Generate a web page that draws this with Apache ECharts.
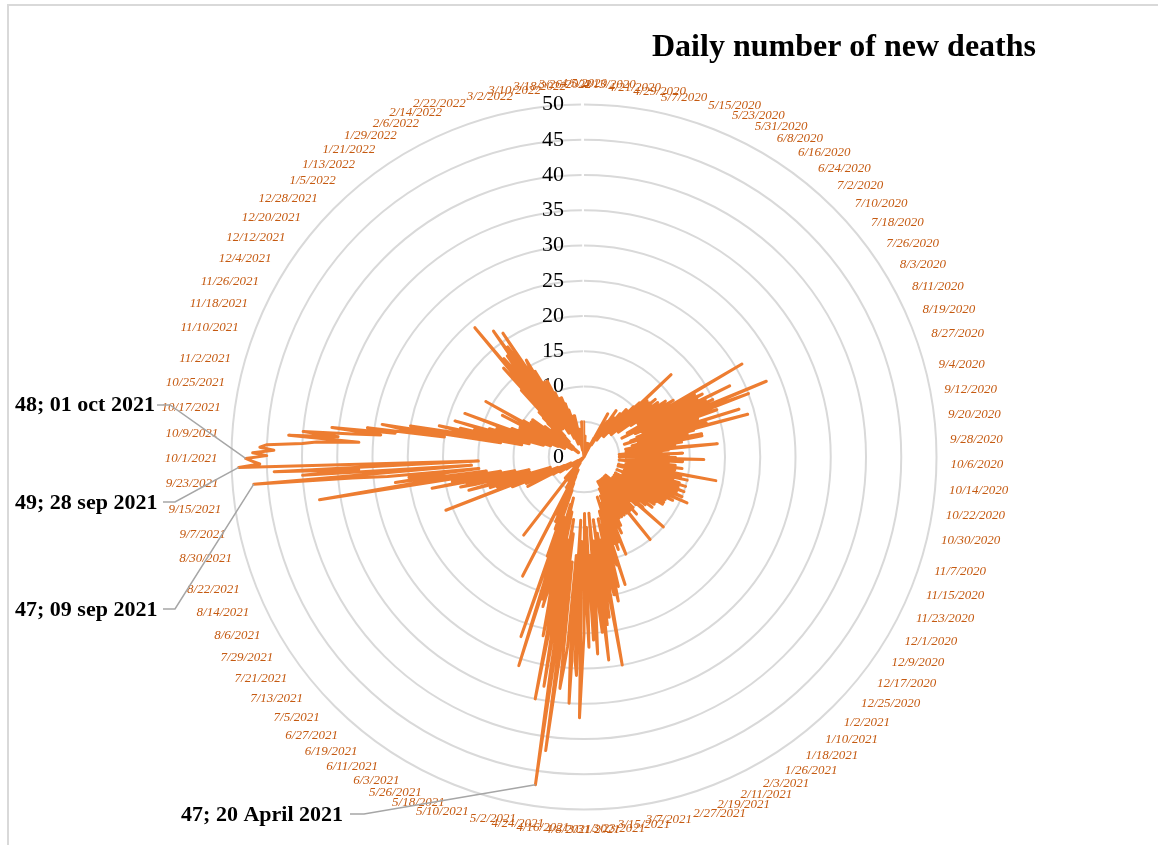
<!DOCTYPE html>
<html>
<head>
<meta charset="utf-8">
<title>Daily number of new deaths</title>
<script src="https://cdn.jsdelivr.net/npm/echarts@6/dist/echarts.min.js"></script>
<style>
  html, body { margin: 0; padding: 0; background: #ffffff; }
  #chart { width: 1158px; height: 845px; }
</style>
</head>
<body>
<div id="chart"></div>
<script>
// Daily new deaths, one array per month, starting 5 April 2020
const apr2020 = [1,0,2,1,0,1,3,1,0,2,1,1,0,2,1,0,1,2,0,1,1,0,2,1,0,1];
const may2020 = [0,1,0,0,1,0,2,0,1,0,0,1,0,0,1,0,0,0,1,0,1,0,0,2,0,1,1,0,2,1,3];
const jun2020 = [2,7,3,2,4,3,5,2,4,3,6,4,5,8,4,7,5,6,3,7,5,6,4,8,6,7,5,9,6,8];
const jul2020 = [7,9,4,10,8,11,5,17,8,10,12,6,11,10,12,5,13,10,7,12,10,13,6,12,10,14,8,13,12,15,9];
const aug2020 = [14,9,26,11,18,7,17,19,10,18,6,23,13,19,8,20,15,9,28,12,19,25,8,18,20,7,17,14,6,23,10];
const sep2020 = [15,18,8,24,12,16,7,15,13,10,17,6,17,12,9,14,7,13,11,6,12,19,8,12,5,11,9,6,14,8];
const oct2020 = [8,12,5,13,10,17,6,11,14,7,12,9,5,13,10,8,14,6,11,13,7,12,10,19,6,14,11,5,15,9,13];
const nov2020 = [12,5,14,11,15,7,12,14,6,13,15,8,12,14,5,13,15,9,12,6,16,11,13,7,14,10,5,13,11,8];
const dec2020 = [10,13,6,11,13,5,12,9,11,6,12,8,11,5,9,12,7,10,11,5,7,10,4,11,9,15,6,10,7,4,8];
const jan2021 = [7,9,4,10,8,5,11,6,9,4,10,7,9,5,15,8,4,10,6,9,4,7,10,5,8,9,4,10,8,5,9];
const feb2021 = [7,10,4,9,11,6,10,8,12,5,11,8,10,12,15,6,11,13,7,12,14,8,13,12,6,19,13,16];
const mar2021 = [14,8,15,19,10,18,21,9,20,18,12,19,30,11,18,23,9,24,21,29,12,25,20,8,22,28,14,26,16,10,27];
const apr2021 = [21,8,25,30,37,12,31,29,9,35,28,14,27,30,33,15,29,42,11,47,30,9,33,25,12,35,24,8,26,22];
const may2021 = [20,6,18,22,7,21,16,31,15,9,14,27,5,15,10,4,11,9,3,8,10,2,9,6,3,5,7,19,2,4,5];
const jun2021 = [3,5,2,4,3,2,4,1,3,2,4,2,1,3,2,1,3,14,2,1,2,0,1,2,1,4,0,1,2,1];
const jul2021 = [0,1,2,0,1,0,1,2,0,1,0,0,1,2,1,0,1,0,2,1,0,1,3,1,2,1,3,2,4,2,3];
const aug2021 = [2,4,1,5,4,2,9,5,3,6,8,2,9,7,3,8,11,6,4,21,10,5,9,13,6,14,12,5,13,17,8];
const sep2021 = [14,9,16,18,8,17,15,22,10,19,17,12,38,23,14,27,20,25,15,28,33,47,16,40,32,44,15,49,46,47];
const oct2021 = [48,45,47,44,46,45,40,38,32,42,35,40,33,29,36,27,31,20,26,29,12,25,19,9,17,21,10,18,8,16,13];
const nov2021 = [15,19,6,14,10,8,13,5,9,12,18,6,9,11,4,10,7,9,3,8,10,4,9,6,13,3,5,8,4,16];
const dec2021 = [9,3,10,6,2,5,7,9,2,8,5,3,9,4,6,1,7,4,2,3,5,1,6,3,5,2,7,5,8,3,9];
const jan2022 = [8,3,9,13,4,17,12,5,13,24,6,18,16,7,15,18,5,17,22,8,19,15,6,21,14,4,13,15,16,5,14];
const feb2022 = [11,4,10,12,3,11,8,12,9,4,10,7,2,9,8,6,3,9,7,5,8,2,6,7,5,4,6,3];
const mar2022 = [4,2,6,3,2,6,3,1,4,2,3,1,2,4,1,2,3,1,2,0,3,1,2,5,1,2,0,3,1,2,5];

const deaths = [].concat(
  apr2020, may2020, jun2020, jul2020, aug2020, sep2020, oct2020, nov2020, dec2020,
  jan2021, feb2021, mar2021, apr2021, may2021, jun2021, jul2021, aug2021, sep2021,
  oct2021, nov2021, dec2021, jan2022, feb2022, mar2022
);

// Category labels: one date per day, written M/D/YYYY
const firstDay = Date.UTC(2020, 3, 5);
const dates = deaths.map((_, i) => {
  const d = new Date(firstDay + i * 86400000);
  return (d.getUTCMonth() + 1) + '/' + d.getUTCDate() + '/' + d.getUTCFullYear();
});

// Radius ticks
const radiusTicks = { min: 0, max: 50, step: 5 };

// Callouts for the highest days
const callouts = [
  { date: '10/1/2021', text: '48; 01 oct 2021' },
  { date: '9/28/2021', text: '49; 28 sep 2021' },
  { date: '9/22/2021', text: '47; 09 sep 2021' },
  { date: '4/20/2021', text: '47; 20 April 2021' }
];
// where each callout's text sits and where its leader line starts
const calloutLayout = [
  { x: 15,  y: 405, align: 'left',  line: [[157, 405], [170, 405]] },
  { x: 15,  y: 503, align: 'left',  line: [[163, 502], [175, 502]] },
  { x: 15,  y: 610, align: 'left',  line: [[163, 609], [175, 609]] },
  { x: 343, y: 815, align: 'right', line: [[350, 814], [364, 814]] }
];

const serif = '"Liberation Serif", "Times New Roman", serif';
const chart = echarts.init(document.getElementById('chart'), null, { renderer: 'canvas' });

chart.setOption({
  animation: false,
  backgroundColor: '#ffffff',
  title: {
    text: 'Daily number of new deaths',
    left: 647,
    top: 27,
    textStyle: { fontFamily: serif, fontWeight: 'bold', fontSize: 32, color: '#000000' }
  },
  polar: { center: [584, 457], radius: 352.5 },
  angleAxis: {
    type: 'category',
    data: dates,
    startAngle: 90,
    clockwise: true,
    boundaryGap: false,
    axisLine: { show: false },
    axisTick: { show: false },
    splitLine: { show: false },
    axisLabel: {
      interval: 7,
      margin: 14,
      color: '#C55A11',
      fontStyle: 'italic',
      fontFamily: serif,
      fontSize: 13
    }
  },
  radiusAxis: {
    min: radiusTicks.min,
    max: radiusTicks.max,
    interval: radiusTicks.step,
    axisLine: { show: false },
    axisTick: { show: false },
    splitLine: { show: true, lineStyle: { color: '#d9d9d9', width: 2 } },
    axisLabel: { color: '#000000', fontFamily: serif, fontSize: 22, margin: 20 }
  },
  series: [{
    name: 'New deaths',
    type: 'line',
    coordinateSystem: 'polar',
    data: deaths,
    showSymbol: false,
    symbol: 'none',
    smooth: false,
    lineStyle: { color: '#ED7D31', width: 3, cap: 'round', join: 'round' },
    z: 3
  }]
});

// Leader lines and callout texts, anchored to the plotted points
const graphics = [{
  type: 'rect',
  shape: { x: 8, y: 5, width: 1180, height: 880 },
  style: { fill: 'none', stroke: '#d9d9d9', lineWidth: 2 },
  silent: true,
  z: -10
}];
callouts.forEach((c, k) => {
  const idx = dates.indexOf(c.date);
  const pt = chart.convertToPixel({ polarIndex: 0 }, [deaths[idx], idx]);
  const lay = calloutLayout[k];
  graphics.push({
    type: 'polyline',
    shape: { points: lay.line.concat([pt]) },
    style: { stroke: '#a6a6a6', lineWidth: 1.5, fill: 'none' },
    silent: true,
    z: 5
  });
  graphics.push({
    type: 'text',
    x: lay.x,
    y: lay.y,
    style: {
      text: c.text,
      fontFamily: serif,
      fontWeight: 'bold',
      fontSize: 22,
      fill: '#000000',
      align: lay.align,
      verticalAlign: 'middle'
    },
    silent: true,
    z: 6
  });
});
chart.setOption({ graphic: graphics });
</script>
</body>
</html>
